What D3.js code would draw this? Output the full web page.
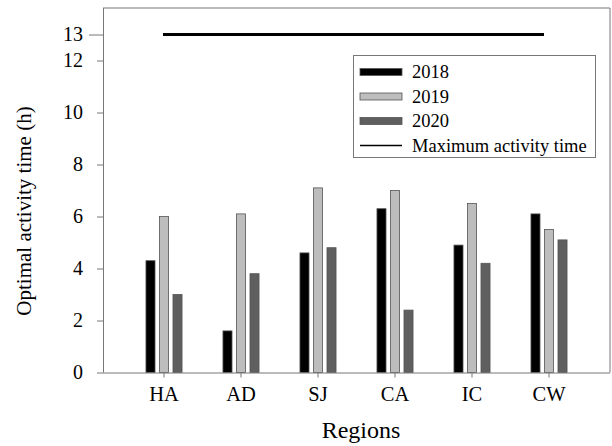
<!DOCTYPE html>
<html>
<head>
<meta charset="utf-8">
<script src="https://cdn.jsdelivr.net/npm/d3@7"></script>
<style>
  body { margin: 0; background: #fff; }
  svg, svg text { font-family: "Liberation Serif", "Times New Roman", serif; }
  svg { display: block; }
</style>
</head>
<body>
<div id="chart"></div>
<script>
const regions = ['HA', 'AD', 'SJ', 'CA', 'IC', 'CW'];
const years = ['2018', '2019', '2020'];
const values2018 = [4.3, 1.6, 4.6, 6.3, 4.9, 6.1];
const values2019 = [6.0, 6.1, 7.1, 7.0, 6.5, 5.5];
const values2020 = [3.0, 3.8, 4.8, 2.4, 4.2, 5.1];
const maxActivity = 13;
const yTicks = [0, 2, 4, 6, 8, 10, 12];

const width = 612;
const height = 446;
const plotLeft = 103, plotRight = 610, plotTop = 8, plotBottom = 372.5;

const seriesValues = [values2018, values2019, values2020];
const colors = { '2018': '#000000', '2019': '#bdbdbd', '2020': '#5f5f5f' };

const svg = d3.select('#chart')
  .append('svg')
  .attr('width', width)
  .attr('height', height);

const x = d3.scaleBand()
  .domain(regions)
  .range([125.5, 587.5])
  .padding(0);

const x1 = d3.scaleBand()
  .domain(years)
  .range([-22.5, 22.5])
  .padding(0.33);

const y = d3.scaleLinear()
  .domain([0, 14])
  .range([plotBottom, plotBottom - 14 * 26]);

// frame (top + right)
svg.append('path')
  .attr('d', `M${plotLeft},${plotTop}H${plotRight}V${plotBottom}`)
  .attr('fill', 'none')
  .attr('stroke', '#777')
  .attr('stroke-width', 1);

// bars
const rows = regions.map((r, i) => ({
  region: r,
  bars: years.map((yr, j) => ({ year: yr, value: seriesValues[j][i] }))
}));

const group = svg.append('g')
  .selectAll('g')
  .data(rows)
  .enter().append('g')
  .attr('transform', d => `translate(${x(d.region) + x.bandwidth() / 2},0)`);

group.selectAll('rect')
  .data(d => d.bars)
  .enter().append('rect')
  .attr('x', d => x1(d.year))
  .attr('y', d => y(d.value))
  .attr('width', x1.bandwidth())
  .attr('height', d => y(0) - y(d.value))
  .attr('fill', d => colors[d.year])
  .attr('stroke', '#555')
  .attr('stroke-width', 0.8);

// maximum activity time line
svg.append('line')
  .attr('x1', x('HA') + x.bandwidth() / 2 - 1)
  .attr('x2', x('CW') + x.bandwidth() / 2 - 5)
  .attr('y1', y(maxActivity))
  .attr('y2', y(maxActivity))
  .attr('stroke', '#000')
  .attr('stroke-width', 3);

// y axis
const yAxis = svg.append('g')
  .attr('transform', `translate(${plotLeft},0)`)
  .call(d3.axisLeft(y).tickValues(yTicks).tickSize(6).tickPadding(14).tickSizeOuter(0))
  .attr('font-family', null)
  .attr('font-size', 20);

yAxis.append('line')
  .attr('x1', -14)
  .attr('x2', 0)
  .attr('y1', y(maxActivity) + 0.5)
  .attr('y2', y(maxActivity) + 0.5)
  .attr('stroke', '#777');

yAxis.append('text')
  .attr('x', -20)
  .attr('y', y(maxActivity))
  .attr('dy', '0.32em')
  .attr('text-anchor', 'end')
  .attr('fill', '#000')
  .text(maxActivity);

yAxis.select('.domain').attr('d', `M0.5,${plotTop}V${plotBottom}`);
yAxis.selectAll('.tick text').attr('x', -20);

// x axis
const xAxis = svg.append('g')
  .attr('transform', `translate(0,${plotBottom})`)
  .call(d3.axisBottom(x).tickSize(5).tickPadding(9).tickSizeOuter(0))
  .attr('font-family', null)
  .attr('font-size', 20.5);

xAxis.select('.domain').attr('d', `M${plotLeft},0.5H${plotRight}`);

svg.selectAll('.domain').attr('stroke', '#777');
svg.selectAll('.tick line').attr('stroke', '#777');

// axis titles
svg.append('text')
  .attr('transform', 'translate(31,211) rotate(-90)')
  .attr('text-anchor', 'middle')
  .attr('font-size', 21)
  .text('Optimal activity time (h)');

svg.append('text')
  .attr('x', 361)
  .attr('y', 438)
  .attr('text-anchor', 'middle')
  .attr('font-size', 24)
  .text('Regions');

// legend
const legend = svg.append('g')
  .attr('transform', 'translate(353,55)');

legend.append('rect')
  .attr('x', 0.5)
  .attr('y', 0.5)
  .attr('width', 242)
  .attr('height', 102)
  .attr('fill', '#fff')
  .attr('stroke', '#777');

const legendData = years.map(yr => ({ label: yr, type: 'bar', color: colors[yr] }))
  .concat([{ label: 'Maximum activity time', type: 'line', color: '#000' }]);

const item = legend.selectAll('g.item')
  .data(legendData)
  .enter().append('g')
  .attr('class', 'item')
  .attr('transform', (d, i) => `translate(0,${17 + i * 24.5})`);

item.filter(d => d.type === 'bar')
  .append('rect')
  .attr('x', 7)
  .attr('y', -3.5)
  .attr('width', 42)
  .attr('height', 7)
  .attr('fill', d => d.color)
  .attr('stroke', '#555')
  .attr('stroke-width', 0.8);

item.filter(d => d.type === 'line')
  .append('line')
  .attr('x1', 7)
  .attr('x2', 49)
  .attr('y1', 0)
  .attr('y2', 0)
  .attr('stroke', '#000')
  .attr('stroke-width', 1.5);

item.append('text')
  .attr('x', 59)
  .attr('y', 0)
  .attr('dy', '0.35em')
  .attr('font-size', 18.5)
  .text(d => d.label);
</script>
</body>
</html>
